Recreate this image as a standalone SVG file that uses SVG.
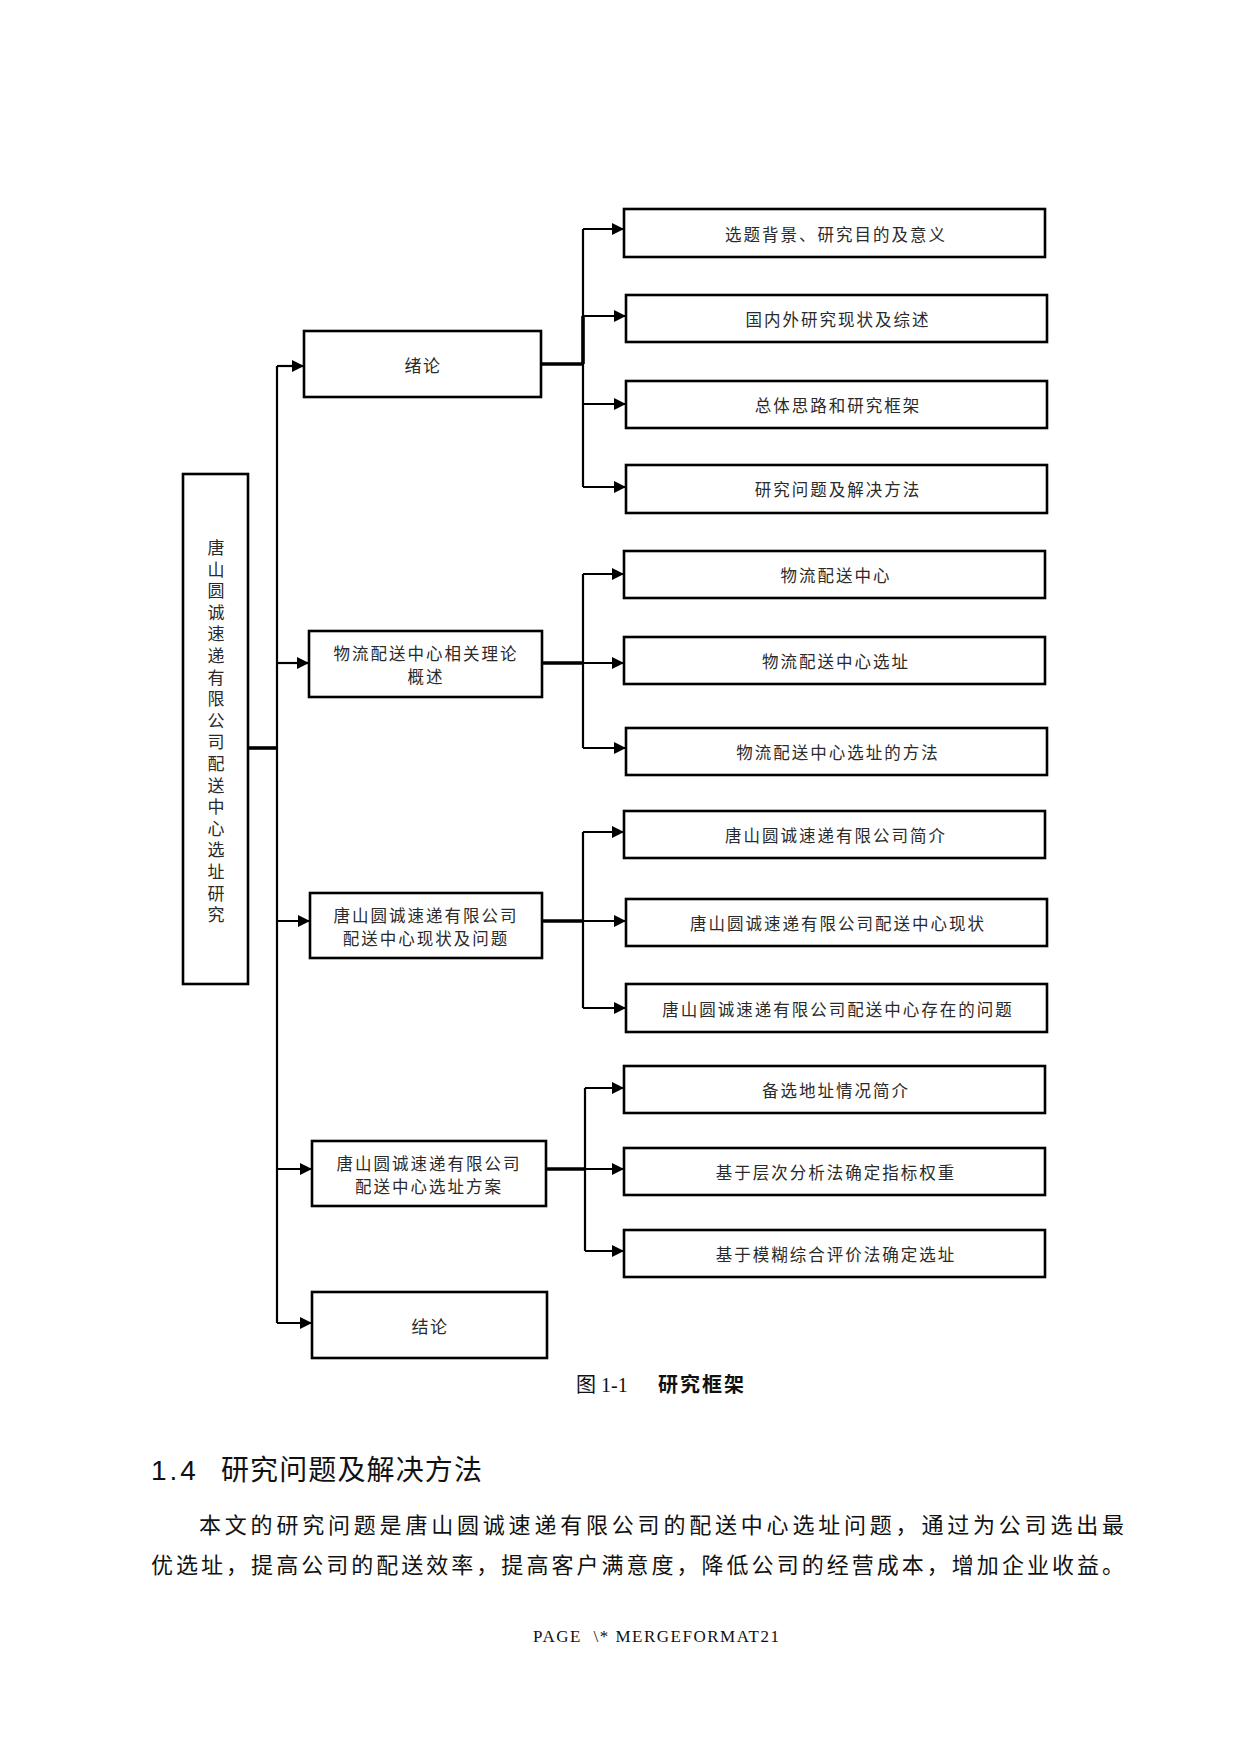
<svg xmlns="http://www.w3.org/2000/svg" width="1240" height="1754" viewBox="0 0 1240 1754">
<style>
  .box { fill: #ffffff; stroke: #000000; stroke-width: 2.6; }
  .ln { fill: none; stroke: #000000; stroke-width: 2.2; }
  .thk { fill: none; stroke: #000000; stroke-width: 3.6; }
  .t1 { font-family: "Noto Sans CJK SC", "Liberation Sans", sans-serif; font-size: 17px; fill: #2a2a2a; text-anchor: middle; letter-spacing: 1.5px; }
  .t1s { font-family: "Noto Sans CJK SC", "Liberation Sans", sans-serif; font-size: 16.5px; fill: #2a2a2a; text-anchor: middle; letter-spacing: 2px; }
  .t2 { font-family: "Noto Sans CJK SC", "Liberation Sans", sans-serif; font-size: 16.5px; fill: #2a2a2a; text-anchor: middle; letter-spacing: 2px; }
  .tv { font-family: "Noto Sans CJK SC", "Liberation Sans", sans-serif; font-size: 17px; fill: #2a2a2a; text-anchor: middle; }
</style>
<defs>
  <marker id="arr" markerUnits="userSpaceOnUse" markerWidth="13" markerHeight="13" refX="12" refY="6" orient="auto">
    <path d="M0,0 L12,6 L0,12 z" fill="#000000"/>
  </marker>
</defs>
<rect width="1240" height="1754" fill="#ffffff"/>

<g id="connectors">
  <line class="thk" x1="248" y1="748" x2="277" y2="748"/>
  <line class="ln" x1="277" y1="366" x2="277" y2="1323"/>
  <line class="ln" x1="277" y1="366" x2="304" y2="366" marker-end="url(#arr)"/>
  <line class="ln" x1="277" y1="663" x2="309" y2="663" marker-end="url(#arr)"/>
  <line class="ln" x1="277" y1="921" x2="310" y2="921" marker-end="url(#arr)"/>
  <line class="ln" x1="277" y1="1169" x2="312" y2="1169" marker-end="url(#arr)"/>
  <line class="ln" x1="277" y1="1323" x2="312" y2="1323" marker-end="url(#arr)"/>

  <line class="thk" x1="541" y1="364" x2="583" y2="364"/>
  <line class="ln" x1="583" y1="229" x2="583" y2="487"/>
  <line class="thk" x1="583" y1="316" x2="583" y2="364"/>
  <line class="ln" x1="583" y1="229" x2="624" y2="229" marker-end="url(#arr)"/>
  <line class="ln" x1="583" y1="316" x2="626" y2="316" marker-end="url(#arr)"/>
  <line class="ln" x1="583" y1="404" x2="626" y2="404" marker-end="url(#arr)"/>
  <line class="ln" x1="583" y1="487" x2="626" y2="487" marker-end="url(#arr)"/>

  <line class="thk" x1="542" y1="663" x2="583" y2="663"/>
  <line class="ln" x1="583" y1="574" x2="583" y2="748"/>
  <line class="ln" x1="583" y1="574" x2="624" y2="574" marker-end="url(#arr)"/>
  <line class="ln" x1="583" y1="663" x2="624" y2="663" marker-end="url(#arr)"/>
  <line class="ln" x1="583" y1="748" x2="626" y2="748" marker-end="url(#arr)"/>

  <line class="thk" x1="542" y1="921" x2="583" y2="921"/>
  <line class="ln" x1="583" y1="832" x2="583" y2="1008"/>
  <line class="ln" x1="583" y1="832" x2="624" y2="832" marker-end="url(#arr)"/>
  <line class="ln" x1="583" y1="921" x2="626" y2="921" marker-end="url(#arr)"/>
  <line class="ln" x1="583" y1="1008" x2="626" y2="1008" marker-end="url(#arr)"/>

  <line class="thk" x1="546" y1="1169" x2="585" y2="1169"/>
  <line class="ln" x1="585" y1="1088" x2="585" y2="1251"/>
  <line class="ln" x1="585" y1="1088" x2="624" y2="1088" marker-end="url(#arr)"/>
  <line class="ln" x1="585" y1="1169" x2="624" y2="1169" marker-end="url(#arr)"/>
  <line class="ln" x1="585" y1="1251" x2="624" y2="1251" marker-end="url(#arr)"/>
</g>

<g id="root">
  <rect class="box" x="183" y="474" width="65" height="510"/>
  <text class="tv">
    <tspan x="216" y="554">唐</tspan><tspan x="216" y="575.6">山</tspan><tspan x="216" y="597.2">圆</tspan><tspan x="216" y="618.8">诚</tspan><tspan x="216" y="640.4">速</tspan><tspan x="216" y="662">递</tspan><tspan x="216" y="683.6">有</tspan><tspan x="216" y="705.2">限</tspan><tspan x="216" y="726.8">公</tspan><tspan x="216" y="748.4">司</tspan><tspan x="216" y="770">配</tspan><tspan x="216" y="791.6">送</tspan><tspan x="216" y="813.2">中</tspan><tspan x="216" y="834.8">心</tspan><tspan x="216" y="856.4">选</tspan><tspan x="216" y="878">址</tspan><tspan x="216" y="899.6">研</tspan><tspan x="216" y="921.2">究</tspan>
  </text>
</g>

<g id="n1">
  <rect class="box" x="304" y="331" width="237" height="66"/>
  <text class="t1" x="423" y="372">绪论</text>
</g>
<g id="n2">
  <rect class="box" x="309" y="631" width="233" height="66"/>
  <text class="t1s" x="426" y="660">物流配送中心相关理论</text>
  <text class="t1s" x="426" y="682.5">概述</text>
</g>
<g id="n3">
  <rect class="box" x="310" y="893" width="232" height="65"/>
  <text class="t1s" x="426" y="922">唐山圆诚速递有限公司</text>
  <text class="t1s" x="426" y="944.5">配送中心现状及问题</text>
</g>
<g id="n4">
  <rect class="box" x="312" y="1141" width="234" height="65"/>
  <text class="t1s" x="429" y="1170">唐山圆诚速递有限公司</text>
  <text class="t1s" x="429" y="1192.5">配送中心选址方案</text>
</g>
<g id="n5">
  <rect class="box" x="312" y="1292" width="235" height="66"/>
  <text class="t1" x="430" y="1333">结论</text>
</g>

<g id="c1">
  <rect class="box" x="624" y="209" width="421" height="48"/>
  <text class="t2" x="836" y="241">选题背景、研究目的及意义</text>
</g>
<g id="c2">
  <rect class="box" x="626" y="295" width="421" height="47"/>
  <text class="t2" x="838" y="326">国内外研究现状及综述</text>
</g>
<g id="c3">
  <rect class="box" x="626" y="381" width="421" height="47"/>
  <text class="t2" x="838" y="412">总体思路和研究框架</text>
</g>
<g id="c4">
  <rect class="box" x="626" y="465" width="421" height="48"/>
  <text class="t2" x="838" y="496">研究问题及解决方法</text>
</g>
<g id="c5">
  <rect class="box" x="624" y="551" width="421" height="47"/>
  <text class="t2" x="836" y="582">物流配送中心</text>
</g>
<g id="c6">
  <rect class="box" x="624" y="637" width="421" height="47"/>
  <text class="t2" x="836" y="668">物流配送中心选址</text>
</g>
<g id="c7">
  <rect class="box" x="626" y="728" width="421" height="47"/>
  <text class="t2" x="838" y="759">物流配送中心选址的方法</text>
</g>
<g id="c8">
  <rect class="box" x="624" y="811" width="421" height="47"/>
  <text class="t2" x="836" y="842">唐山圆诚速递有限公司简介</text>
</g>
<g id="c9">
  <rect class="box" x="626" y="899" width="421" height="47"/>
  <text class="t2" x="838" y="930">唐山圆诚速递有限公司配送中心现状</text>
</g>
<g id="c10">
  <rect class="box" x="626" y="984" width="421" height="48"/>
  <text class="t2" x="838" y="1016">唐山圆诚速递有限公司配送中心存在的问题</text>
</g>
<g id="c11">
  <rect class="box" x="624" y="1066" width="421" height="47"/>
  <text class="t2" x="836" y="1097">备选地址情况简介</text>
</g>
<g id="c12">
  <rect class="box" x="624" y="1148" width="421" height="47"/>
  <text class="t2" x="836" y="1179">基于层次分析法确定指标权重</text>
</g>
<g id="c13">
  <rect class="box" x="624" y="1230" width="421" height="47"/>
  <text class="t2" x="836" y="1261">基于模糊综合评价法确定选址</text>
</g>

<g id="caption">
  <text x="576" y="1392" font-family="'Liberation Serif', 'Noto Sans CJK SC', serif" font-size="20" fill="#111">图 1-1</text>
  <text x="658" y="1392" font-family="'Noto Sans CJK SC', sans-serif" font-size="20" font-weight="bold" fill="#111" letter-spacing="2">研究框架</text>
</g>

<g id="body">
  <text x="151" y="1480" font-family="'Liberation Sans', 'Noto Sans CJK SC', sans-serif" font-size="28" fill="#111" letter-spacing="3">1.4</text>
  <text x="221" y="1480" font-family="'Noto Sans CJK SC', sans-serif" font-size="28" fill="#111" textLength="261" lengthAdjust="spacing">研究问题及解决方法</text>
  <text x="199" y="1533" font-family="'Noto Sans CJK SC', sans-serif" font-size="22" fill="#111" textLength="925" lengthAdjust="spacing">本文的研究问题是唐山圆诚速递有限公司的配送中心选址问题，通过为公司选出最</text>
  <text x="151" y="1573" font-family="'Noto Sans CJK SC', sans-serif" font-size="22" fill="#111" textLength="973" lengthAdjust="spacing">优选址，提高公司的配送效率，提高客户满意度，降低公司的经营成本，增加企业收益。</text>
  <text x="533" y="1642" font-family="'Liberation Serif', serif" font-size="17" fill="#111" textLength="246" lengthAdjust="spacing" xml:space="preserve">PAGE  \* MERGEFORMAT21</text>
</g>
</svg>
